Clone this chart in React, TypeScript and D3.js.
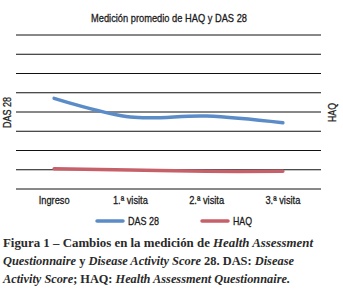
import React from "react";
import * as d3 from "d3";

const categories = ["Ingreso", "1.ª visita", "2.ª visita", "3.ª visita"];
const das28 = [4.71, 3.74, 3.79, 3.44];
const haq = [1.05, 0.99, 0.92, 0.92];
const gridTicks = [0, 1, 2, 3, 4, 5, 6, 7, 8];
const seriesNames = ["DAS 28", "HAQ"];

const W = 343;
const H = 292;
const narrow = "'Liberation Sans', Arial, sans-serif";
const textInk = { fill: "#1a1a1a", stroke: "#1a1a1a", strokeWidth: 0.3 };

export default function App() {
  const x = d3.scaleBand<string>().domain(categories).range([16, 321]);
  const y = d3.scaleLinear().domain([0, 8]).range([189, 35]);
  const cx = (c: string) => (x(c) as number) + x.bandwidth() / 2;
  const line = d3
    .line<number>()
    .x((_, i) => cx(categories[i]))
    .y((d) => y(d))
    .curve(d3.curveCatmullRom.alpha(0.5));

  const colors = ["#5b8cc8", "#c6616a"];
  const catLen = (c: string) => (c === "Ingreso" ? 31 : 35);

  return (
    <svg
      width={W}
      height={H}
      style={{ position: "absolute", left: 0, top: 0, background: "#fff" }}
    >
      <text x={91} y={21.5} textLength={156} lengthAdjust="spacingAndGlyphs" fontFamily={narrow} fontSize={11.5} {...textInk}>
        Medición promedio de HAQ y DAS 28
      </text>
      {gridTicks.map((t) => (
        <line key={t} x1={16} x2={321} y1={y(t)} y2={y(t)} stroke="#111" strokeWidth={1} />
      ))}
      <path d={line(das28) || ""} fill="none" stroke={colors[0]} strokeWidth={3.5} strokeLinecap="round" />
      <path d={line(haq) || ""} fill="none" stroke={colors[1]} strokeWidth={3.5} strokeLinecap="round" />
      <text
        transform={`translate(11,128) rotate(-90)`}
        textLength={31}
        lengthAdjust="spacingAndGlyphs"
        fontFamily={narrow}
        fontSize={11.5}
        {...textInk}
      >
        DAS 28
      </text>
      <text
        transform={`translate(336,122) rotate(-90)`}
        textLength={19}
        lengthAdjust="spacingAndGlyphs"
        fontFamily={narrow}
        fontSize={11.5}
        {...textInk}
      >
        HAQ
      </text>
      {categories.map((c) => (
        <text
          key={c}
          x={cx(c) - catLen(c) / 2}
          y={204}
          textLength={catLen(c)}
          lengthAdjust="spacingAndGlyphs"
          fontFamily={narrow}
          fontSize={11.5}
          {...textInk}
        >
          {c}
        </text>
      ))}
      {seriesNames.map((s, i) => {
        const lx = i === 0 ? 97 : 202;
        return (
          <g key={s}>
            <line x1={lx} x2={lx + 26} y1={221} y2={221} stroke={colors[i]} strokeWidth={3.5} strokeLinecap="round" />
            <text
              x={lx + 31}
              y={225}
              textLength={i === 0 ? 31 : 19}
              lengthAdjust="spacingAndGlyphs"
              fontFamily={narrow}
              fontSize={11.5}
              {...textInk}
            >
              {s}
            </text>
          </g>
        );
      })}
      <g fontFamily="'Liberation Serif', 'DejaVu Serif', serif" fontSize={12.5} fontWeight="bold" fill="#2a2a2a">
        <text x={3} y={247} textLength={310} lengthAdjust="spacingAndGlyphs">
          Figura 1 – Cambios en la medición de <tspan fontStyle="italic">Health Assessment</tspan>
        </text>
        <text x={3} y={265} textLength={291} lengthAdjust="spacingAndGlyphs">
          <tspan fontStyle="italic">Questionnaire</tspan> y <tspan fontStyle="italic">Disease Activity Score</tspan> 28. DAS: <tspan fontStyle="italic">Disease</tspan>
        </text>
        <text x={3} y={283} textLength={287} lengthAdjust="spacingAndGlyphs">
          <tspan fontStyle="italic">Activity Score</tspan>; HAQ: <tspan fontStyle="italic">Health Assessment Questionnaire.</tspan>
        </text>
      </g>
    </svg>
  );
}
